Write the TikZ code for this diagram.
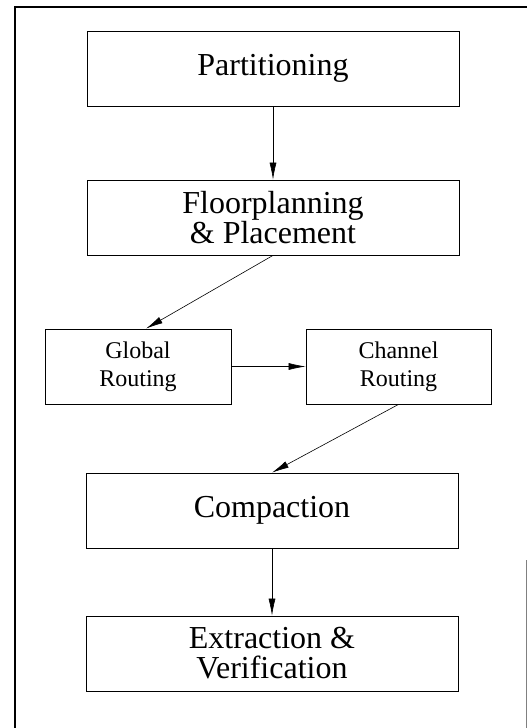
\documentclass[tikz,border=0pt]{standalone}
\usepackage{fontspec}
\setmainfont{Liberation Serif}
\usetikzlibrary{arrows.meta}
\begin{document}
\begin{tikzpicture}[x=1pt,y=-1pt,
  big/.style={draw, line width=0.8pt, minimum width=372pt, minimum height=75pt, inner sep=0pt, align=center, font=\fontsize{32}{30}\selectfont},
  small/.style={draw, line width=0.8pt, minimum width=186pt, minimum height=75pt, inner sep=0pt, align=center, font=\fontsize{24}{28}\selectfont},
  arr/.style={line width=0.6pt, -{Latex[length=17pt,width=7pt]}}]
\useasboundingbox (0,0) rectangle (527,728);
\draw[line width=2pt] (15,740) -- (15,7) -- (535,7);
\draw[line width=0.6pt, gray] (526,560) -- (526,740);
\node[big] (part) at (273,68.5) {Partitioning};
\node[big] (floor) at (273,217.5) {Floorplanning\\\& Placement};
\node[small] (glob) at (138,366.5) {Global\\Routing};
\node[small, minimum width=185pt] (chan) at (398.5,366.5) {Channel\\Routing};
\node[big] (comp) at (272,510.5) {Compaction};
\node[big] (extr) at (272,653.5) {Extraction \&\\Verification};
\draw[arr] (part) -- (floor);
\draw[arr] (floor.south) -- ([xshift=8pt]glob.north);
\draw[arr] (glob) -- (chan);
\draw[arr] (chan.south) -- (comp.north);
\draw[arr] (comp) -- (extr);
\end{tikzpicture}
\end{document}
